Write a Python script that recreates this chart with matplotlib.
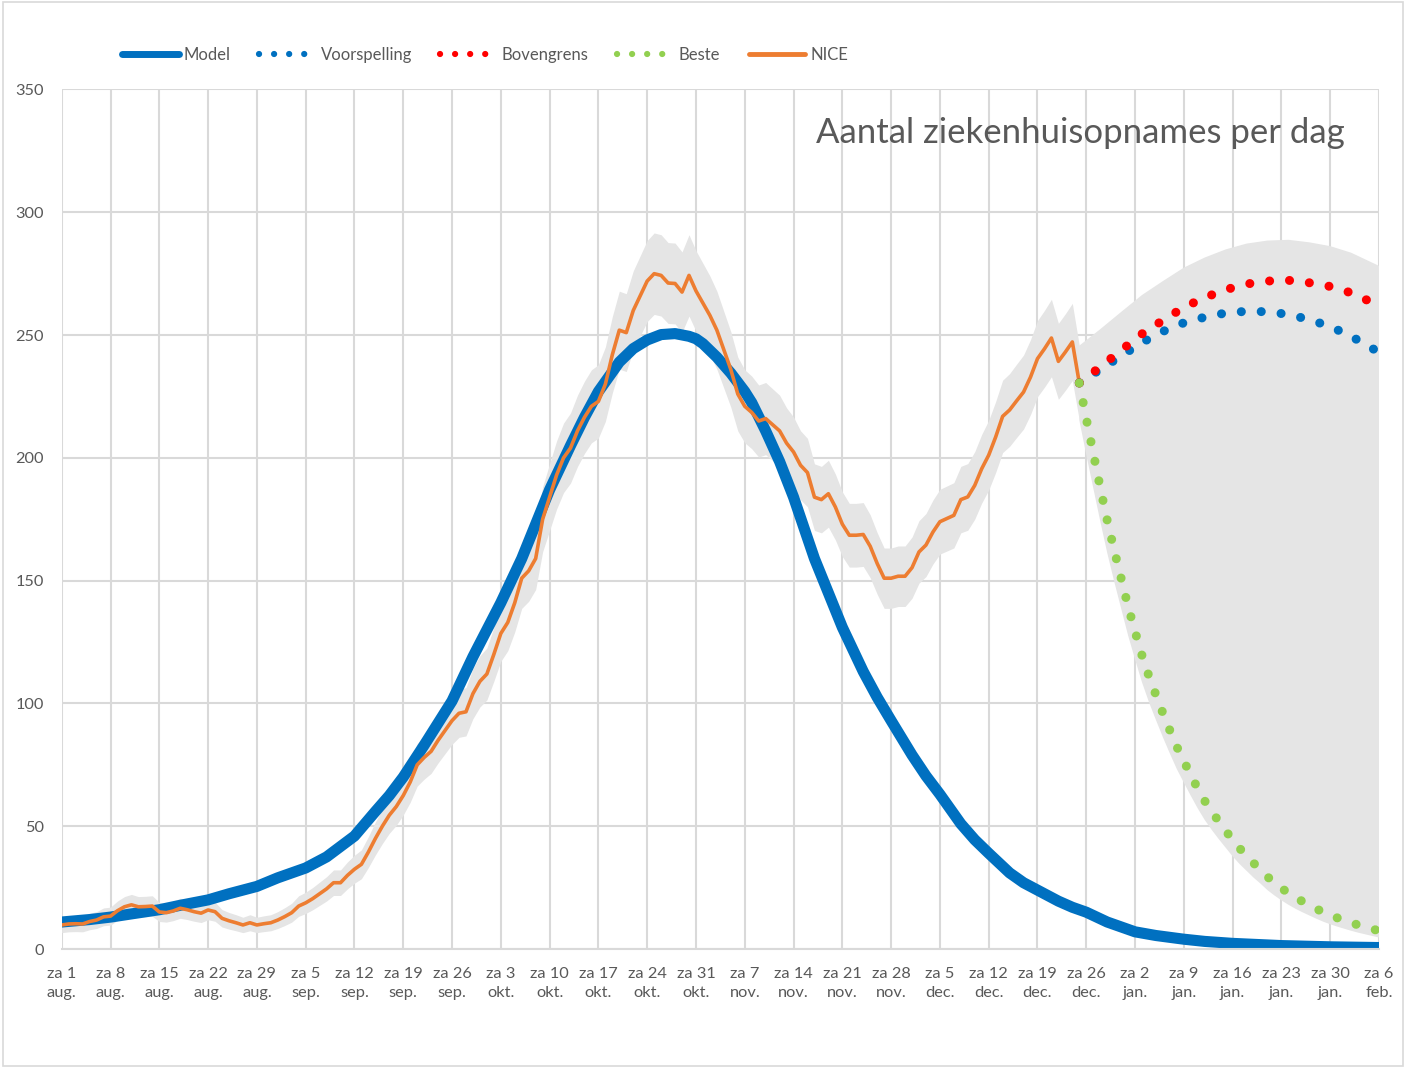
import numpy as np
import matplotlib
matplotlib.use("Agg")
import matplotlib.pyplot as plt
from matplotlib.lines import Line2D
from matplotlib.patches import Rectangle

plt.rcParams['font.family'] = ['Lato', 'DejaVu Sans']

GREY_TXT = "#595959"
GRID = "#d9d9d9"
BAND = "#e5e5e5"
BLUE = "#0070c0"
ORANGE = "#ed7d31"
RED = "#ff0000"
GREEN = "#92d050"

# x = days since za 1 aug. 2020
tick_labels = [
    "za 1\naug.", "za 8\naug.", "za 15\naug.", "za 22\naug.", "za 29\naug.",
    "za 5\nsep.", "za 12\nsep.", "za 19\nsep.", "za 26\nsep.",
    "za 3\nokt.", "za 10\nokt.", "za 17\nokt.", "za 24\nokt.", "za 31\nokt.",
    "za 7\nnov.", "za 14\nnov.", "za 21\nnov.", "za 28\nnov.",
    "za 5\ndec.", "za 12\ndec.", "za 19\ndec.", "za 26\ndec.",
    "za 2\njan.", "za 9\njan.", "za 16\njan.", "za 23\njan.", "za 30\njan.",
    "za 6\nfeb.",
]

model_days = [0, 4, 7, 10, 14, 17, 21, 24, 28, 31, 35, 38, 42, 45, 47, 49, 52, 54,
              56, 59, 61, 63, 66, 68, 70, 73, 75, 77, 80, 82, 84, 86, 88, 90, 91,
              92, 94, 96, 98, 99, 101, 103, 105, 108, 110, 112, 115, 117, 119, 122,
              124, 126, 129, 131, 133, 136, 138, 140, 143, 145, 147, 150, 152, 154,
              157, 161, 164, 168, 175, 182, 189]
model_vals = [11, 12, 13, 14.3, 16, 17.8, 20, 22.5, 25.5, 29, 33, 37.5, 46, 56, 62.5,
              70, 83, 92, 101, 119, 130, 141, 159, 173, 187, 205, 216.5, 227, 239,
              244.5, 248, 250.2, 250.6, 249.5, 248.5, 246.5, 241, 234.5, 227, 222.5,
              211, 198.5, 184, 159, 145, 131, 113, 102.5, 93, 79, 70.5, 63, 51, 44.5,
              39, 31, 27, 24, 19.5, 17, 15, 11, 9, 7, 5.5, 4, 3.1, 2.3, 1.4, 0.9, 0.6]

nice_days = list(range(0, 147))
nice_vals = [
    9.8, 10.2, 10.3, 10.2, 11.2, 11.8, 13.1, 13.4, 15.6, 17.2,
    18.0, 17.2, 17.3, 17.5, 15.1, 14.8, 15.5, 16.6, 16.0, 15.2,
    14.6, 15.9, 15.2, 12.5, 11.5, 10.7, 9.8, 10.7, 9.8, 10.3,
    10.7, 11.8, 13.2, 14.8, 17.5, 18.8, 20.5, 22.5, 24.5, 27.0,
    27.0, 30.0, 32.5, 34.5, 39.5, 45, 50, 54.5, 58, 62.5,
    68, 75, 78, 80.5, 85, 89, 93, 96, 96.6, 104,
    109, 112, 120, 128.5, 133, 141, 151, 154, 159, 175,
    184, 193, 200, 204, 211, 216.5, 221, 223, 230, 242,
    252, 251, 260, 266, 272, 275, 274.3, 271.2, 271, 267.5,
    274.3, 268, 263, 258, 252, 244, 236, 226, 221, 218.5,
    215, 216, 213.5, 211, 206, 202.4, 197, 194, 184, 183,
    185.4, 180, 173, 168.5, 168.5, 168.8, 164, 157, 151, 151,
    151.8, 151.8, 155.3, 161.7, 164.5, 169.8, 174, 175.3, 176.6, 183,
    184.1, 188.8, 195.6, 201.1, 208.5, 216.9, 219.5, 223.2, 226.8, 232.9,
    240.4, 244.4, 248.8, 239.3, 243.1, 247.2, 230.5,
]

fc_days = [146, 149, 152, 155, 158, 161, 164, 167, 170, 173, 176, 179, 182, 185, 189]
voorspelling = [230.5, 236, 241.5, 247, 251.5, 255, 257.3, 259, 259.7, 259.5, 258.4,
                256.3, 253.5, 249.5, 243]
bovengrens = [230.5, 237, 243.8, 250.5, 256, 261.3, 265.3, 268.5, 270.8, 272, 272.3,
              271.3, 269.8, 267.2, 262]

beste_days = list(range(146, 190))
beste = [230.5, 216, 202, 188, 174.6, 162.5, 151, 139.5, 129.3, 119.5,
         111, 103.4, 96, 89, 82.3, 76.5, 70.8, 65.3, 60.3, 56,
         52, 48.2, 44.4, 41, 38, 35, 32.3, 29.4, 27, 24.8,
         22.8, 21, 19.4, 17.9, 16.4, 15, 13.8, 12.7, 11.7, 10.7,
         9.8, 9, 8.2, 7.4]


def main():
    fig = plt.figure(figsize=(14.06, 10.68), dpi=100)
    ax = fig.add_axes([0.0439, 0.1114, 0.9369, 0.8048])

    nice = np.array(nice_vals)
    low = np.array(beste)
    high = np.array(bovengrens)

    # uncertainty band (1 sigma, poisson)
    ax.fill_between(nice_days, nice - np.sqrt(nice), nice + np.sqrt(nice),
                    color=BAND, lw=0, zorder=1)
    band_x = np.concatenate([fc_days, beste_days[::-1]])
    band_y = np.concatenate([high + np.sqrt(high), (low - np.sqrt(low))[::-1]])
    ax.fill(band_x, band_y, color=BAND, lw=0, zorder=1)

    dots = dict(lw=6.5, dash_capstyle="round", dashes=(0.01, 2.2), zorder=4)
    ax.plot(model_days, model_vals, color=BLUE, lw=8, solid_capstyle="round",
            solid_joinstyle="round", zorder=2)
    ax.plot(fc_days, voorspelling, color=BLUE, **dots)
    ax.plot(fc_days, bovengrens, color=RED, **dots)
    ax.plot(beste_days, beste, color=GREEN, **dots)
    ax.plot(nice_days, nice_vals, color=ORANGE, lw=2.6, solid_joinstyle="round",
            zorder=3)

    ax.set_xlim(0, 189)
    ax.set_ylim(0, 350)
    ax.set_xticks(range(0, 190, 7))
    ax.set_xticklabels(tick_labels, linespacing=1.45)
    ax.set_yticks(range(0, 351, 50))
    ax.grid(True, color=GRID, lw=1.5, zorder=0)
    ax.set_axisbelow(True)
    for s in ["top", "right", "left"]:
        ax.spines[s].set_visible(False)
    ax.spines["bottom"].set_color(GRID)
    ax.spines["bottom"].set_linewidth(1.5)
    ax.tick_params(axis="both", length=0, labelsize=11.8, colors=GREY_TXT)
    ax.tick_params(axis="y", pad=13)
    ax.tick_params(axis="x", pad=13)

    ax.text(0.974, 0.949, "Aantal ziekenhuisopnames per dag", transform=ax.transAxes,
            ha="right", va="center", fontsize=25, color=GREY_TXT)

    dot_leg = dict(lw=4.5, dash_capstyle="round", dashes=(0.01, 2.4))
    handles = [
        Line2D([], [], color=BLUE, lw=5, solid_capstyle="round"),
        Line2D([], [], color=BLUE, **dot_leg),
        Line2D([], [], color=RED, **dot_leg),
        Line2D([], [], color=GREEN, **dot_leg),
        Line2D([], [], color=ORANGE, lw=3.5, solid_capstyle="round"),
    ]
    labels = ["Model", "Voorspelling", "Bovengrens", "Beste", "NICE"]
    leg = fig.legend(handles, labels, loc="center", bbox_to_anchor=(0.345, 0.9485),
                     ncol=5, frameon=False, fontsize=12, handlelength=3.4,
                     handletextpad=0.3, columnspacing=1.7)
    for t in leg.get_texts():
        t.set_color(GREY_TXT)

    fig.patches.append(Rectangle((0.002, 0.002), 0.996, 0.996, transform=fig.transFigure,
                                 fill=False, edgecolor=GRID, lw=1.2))

    fig.savefig("out.png", dpi=100)
    plt.close(fig)


if __name__ == "__main__":
    main()
